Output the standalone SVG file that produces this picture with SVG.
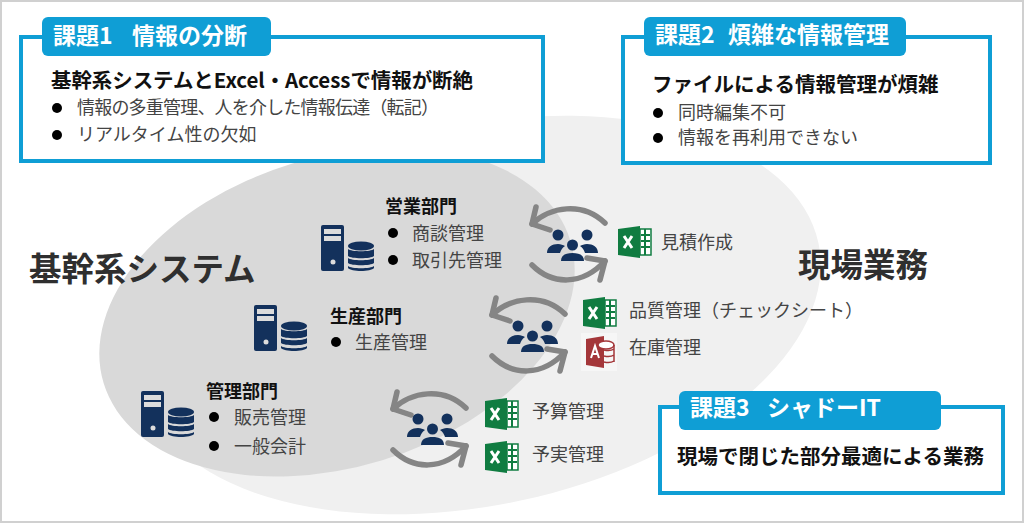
<svg xmlns="http://www.w3.org/2000/svg" width="1024" height="523" viewBox="0 0 1024 523">
<style>
text{font-family:"Noto Sans CJK JP","Noto Sans",sans-serif}
.t{font-size:18px;fill:#444}
.h{font-size:18px;font-weight:700;fill:#111}
.m{font-size:20.500px;font-weight:700;fill:#111}
.b{fill:#000}
.box{fill:#fff;stroke:#0f9ed5;stroke-width:4}
.tab{fill:#0f9ed5}
.tt{font-size:23px;font-weight:700;fill:#fff}
.big{font-size:32.500px;font-weight:700;fill:#2f2f2f}
.arc{fill:none;stroke:#858585;stroke-width:5.500;stroke-linecap:round;stroke-linejoin:round}
</style>
<defs>
<g id="srv" fill="#13315c">
<path d="M2 0h19a2 2 0 0 1 2 2v42a2 2 0 0 1-2 2H2a2 2 0 0 1-2-2V2a2 2 0 0 1 2-2z"/>
<rect x="3" y="4" width="17" height="5" fill="#dcdcdc"/><rect x="3" y="11" width="17" height="5" fill="#dcdcdc"/><circle cx="12" cy="37" r="2.500" fill="#dcdcdc"/>
<ellipse cx="40" cy="21" rx="13" ry="4.500"/><path d="M27 24c3 3 23 3 26 0v7c-3 3-23 3-26 0z"/><path d="M27 33c3 3 23 3 26 0v5c-3 3-23 3-26 0z"/><path d="M27 41c3 3 23 3 26 0v2c-3 4-23 4-26 0z"/>
</g>
<g id="ppl" fill="#13315c">
<circle cx="11" cy="6" r="5.500"/><circle cx="40" cy="6" r="5.500"/><circle cx="25.500" cy="16" r="5.500"/>
<path d="M0 24c0-6 5-9 11-9 3 0 5 1 7 2-3 2-4 4-5 7z"/><path d="M51 24c0-6-5-9-11-9-3 0-5 1-7 2 3 2 4 4 5 7z"/>
<path d="M14 32c0-6 5-8 11.500-8s11.500 2 11.500 8z"/>
</g>
<g id="xl">
<path d="M0 3l22-3v32l-22-3z" fill="#107c41"/><path d="M22 3h11v26H22z" fill="#fff" stroke="#107c41" stroke-width="1.500"/>
<path d="M23 9h9M23 15h9M23 21h9M27 3v26" stroke="#107c41" stroke-width="2"/>
<path d="M6 10l8 12M14 10l-8 12" stroke="#fff" stroke-width="3"/>
</g>
<g id="ac">
<path d="M0 3l18-3v32l-18-3z" fill="#a4373a"/>
<ellipse cx="20" cy="9" rx="8" ry="4" fill="#fff" stroke="#a4373a" stroke-width="1.500"/>
<path d="M18 14c4 1 7 1 10-1M18 20c4 1 7 1 10-1M18 26c4 1 7 1 10-1M28 9v17" fill="none" stroke="#a4373a" stroke-width="1.500"/>
<path d="M5 22l4-12 4 12M6.500 18h5" fill="none" stroke="#fff" stroke-width="2"/>
</g>
<g id="cyc" class="arc">
<path d="M2 15C20-2 52-8 75 14"/><path d="M6-2L2 15l18 6"/>
<path d="M2 56C22 76 52 77 75 52"/><path d="M57 49l18 3-5 19"/>
</g>
</defs>
<rect x="1" y="1" width="1022" height="521" fill="#fff" stroke="#d0d0d0" stroke-width="2"/>
<ellipse id="light-area" cx="480" cy="315" rx="346" ry="190" transform="rotate(-12 480 315)" fill="#f0f0f0"/>
<ellipse id="dark-area" cx="337" cy="312" rx="244" ry="155" transform="rotate(-17 337 312)" fill="#d9d9d9"/>

<g id="kadai1">
<rect class="box" x="21" y="37" width="522" height="124"/>
<rect class="tab" x="42" y="17" width="229" height="39" rx="6"/>
<text class="tt" x="53" y="44">課題1<tspan x="132">情報の分断</tspan></text>
<text class="m" x="51" y="88" textLength="422">基幹系システムとExcel・Accessで情報が断絶</text>
<circle class="b" cx="57" cy="108" r="5"/><text class="t" x="77" y="114" textLength="362">情報の多重管理、人を介した情報伝達（転記）</text>
<circle class="b" cx="57" cy="135" r="5"/><text class="t" x="77" y="141">リアルタイム性の欠如</text>
</g>
<g id="kadai2">
<rect class="box" x="623" y="37" width="367" height="126"/>
<rect class="tab" x="644" y="17" width="262" height="39" rx="6"/>
<text class="tt" x="655" y="43">課題2<tspan x="728">煩雑な情報管理</tspan></text>
<text class="m" x="652" y="92">ファイルによる情報管理が煩雑</text>
<circle class="b" cx="658" cy="113" r="5"/><text class="t" x="678" y="119">同時編集不可</text>
<circle class="b" cx="658" cy="138" r="5"/><text class="t" x="678" y="144">情報を再利用できない</text>
</g>
<g id="kadai3">
<rect class="box" x="660" y="407" width="343" height="86"/>
<rect class="tab" x="679" y="391" width="262" height="39" rx="6"/>
<text class="tt" x="690" y="416">課題3<tspan x="767">シャドーIT</tspan></text>
<text class="m" x="677" y="464">現場で閉じた部分最適による業務</text>
</g>

<text id="label-kikan" class="big" x="29" y="281">基幹系システム</text>
<text id="label-genba" class="big" x="798" y="277">現場業務</text>

<g id="eigyo">
<use href="#srv" x="321" y="225"/>
<text class="h" x="385" y="213">営業部門</text>
<circle class="b" cx="393" cy="233" r="5"/><text class="t" x="412" y="240">商談管理</text>
<circle class="b" cx="393" cy="260" r="5"/><text class="t" x="412" y="267">取引先管理</text>
</g>
<g id="seisan">
<use href="#srv" x="254" y="305"/>
<text class="h" x="330" y="323">生産部門</text>
<circle class="b" cx="336" cy="342" r="5"/><text class="t" x="355" y="349">生産管理</text>
</g>
<g id="kanri">
<use href="#srv" x="141" y="391"/>
<text class="h" x="206" y="398">管理部門</text>
<circle class="b" cx="214" cy="417" r="5"/><text class="t" x="234" y="424">販売管理</text>
<circle class="b" cx="214" cy="446" r="5"/><text class="t" x="234" y="453">一般会計</text>
</g>

<g id="connectors">
<use href="#cyc" x="530" y="209"/>
<use href="#cyc" x="490" y="300"/>
<use href="#cyc" x="391" y="394"/>
</g>

<g id="team1"><use href="#ppl" x="547" y="229"/></g>
<g id="team2"><use href="#ppl" x="507" y="320"/></g>
<g id="team3"><use href="#ppl" x="407" y="413"/></g>

<g id="mitsumori"><use href="#xl" x="618" y="226"/><text class="t" x="661" y="249">見積作成</text></g>
<g id="hinshitsu"><use href="#xl" x="583" y="297"/><text class="t" x="629" y="317">品質管理（チェックシート）</text></g>
<g id="zaiko"><rect x="581" y="333" width="36" height="38" fill="#f6f6f6"/><use href="#ac" x="586" y="336"/><text class="t" x="629" y="354">在庫管理</text></g>
<g id="yosan"><use href="#xl" x="485" y="398"/><text class="t" x="532" y="418">予算管理</text></g>
<g id="yojitsu"><use href="#xl" x="485" y="441"/><text class="t" x="532" y="461">予実管理</text></g>
</svg>
